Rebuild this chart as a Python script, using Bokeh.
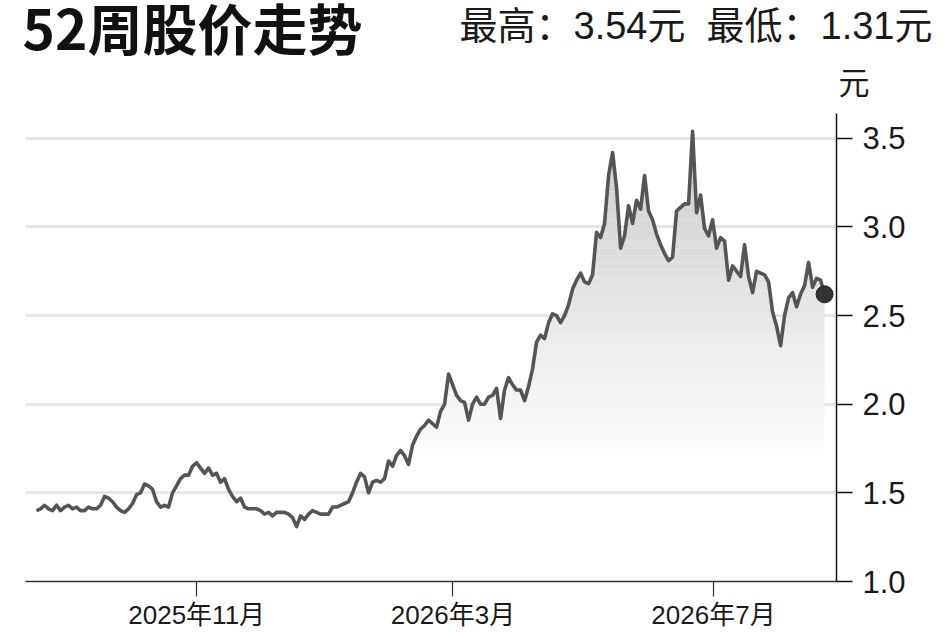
import numpy as np
import pandas as pd
from bokeh.plotting import figure
from bokeh.layouts import column
from bokeh.models import Range1d, FixedTicker, NumeralTickFormatter
from bokeh.core.properties import value
from bokeh.embed import file_html
from bokeh.resources import INLINE

title_text = "52周股价走势"
high_text = "最高：3.54元"
low_text = "最低：1.31元"
unit_text = "元"

start_date = "2025-08-18"
end_date = "2026-08-22"

prices = [
    1.40, 1.41, 1.43, 1.41, 1.40, 1.43, 1.40, 1.42, 1.43, 1.41,
    1.42, 1.40, 1.40, 1.42, 1.41, 1.41, 1.43, 1.48, 1.47, 1.45,
    1.42, 1.40, 1.39, 1.41, 1.44, 1.49, 1.50, 1.55, 1.54, 1.52,
    1.45, 1.42, 1.43, 1.42, 1.50, 1.54, 1.58, 1.60, 1.60, 1.65,
    1.67, 1.64, 1.61, 1.64, 1.60, 1.61, 1.56, 1.58, 1.52, 1.48,
    1.45, 1.47, 1.42, 1.41, 1.41, 1.41, 1.40, 1.38, 1.39, 1.37,
    1.39, 1.39, 1.39, 1.38, 1.36, 1.31, 1.37, 1.35, 1.38, 1.40,
    1.39, 1.38, 1.38, 1.38, 1.42, 1.42,
    1.43, 1.44, 1.45, 1.50, 1.56, 1.61, 1.59, 1.50, 1.56, 1.57,
    1.56, 1.58, 1.68, 1.65, 1.71, 1.74, 1.71, 1.66, 1.77, 1.82,
    1.86, 1.88, 1.91, 1.89, 1.87, 1.96, 2.00, 2.17, 2.11, 2.05,
    2.02, 2.01, 1.91, 2.00, 2.04, 2.00, 2.00, 2.04, 2.05, 2.09,
    1.92, 2.08, 2.15, 2.11, 2.08, 2.08, 2.02, 2.10, 2.20, 2.35,
    2.39, 2.37, 2.46, 2.51, 2.50, 2.46, 2.50, 2.56, 2.65, 2.70,
    2.74, 2.69, 2.68, 2.73, 2.97, 2.94, 3.02, 3.29, 3.42, 3.22,
    2.88, 2.95, 3.12, 3.02, 3.15, 3.10, 3.29, 3.09, 3.04, 2.96,
    2.90, 2.85, 2.81, 2.83, 3.09, 3.11, 3.13, 3.13, 3.54, 3.08,
    3.18, 2.99, 2.95, 3.04, 2.88, 2.94, 2.92, 2.70, 2.78, 2.75,
    2.72, 2.90, 2.72, 2.63, 2.75, 2.74, 2.73, 2.69, 2.52, 2.44,
    2.33, 2.50, 2.60, 2.63, 2.55, 2.62, 2.67, 2.80, 2.66, 2.71,
    2.70, 2.62,
]

x_tick_dates = ["2025-11-01", "2026-03-01", "2026-07-01"]
x_tick_labels = ["2025年11月", "2026年3月", "2026年7月"]
y_ticks = [1.0, 1.5, 2.0, 2.5, 3.0, 3.5]

dates = pd.date_range(start_date, end_date, periods=len(prices))
price_arr = np.array(prices)

W = 948
HEAD_H = 113
MAIN_H = 519

# ---------- header (title texts) ----------
head = figure(width=W, height=HEAD_H, x_range=Range1d(0, W), y_range=Range1d(HEAD_H, 0),
              x_axis_location=None, y_axis_location=None,
              output_backend="svg", toolbar_location=None,
              min_border_left=0, min_border_right=0, min_border_top=0, min_border_bottom=0)
head.frame_align = False
head.outline_line_color = None
head.xgrid.visible = False
head.ygrid.visible = False
head.text(x=[22], y=[25], text=[title_text], text_font=value("Noto Sans CJK SC"),
          text_font_style="bold", text_font_size="55px", text_baseline="alphabetic",
          text_color="#111111")
head.text(x=[459, 706], y=[25, 25], text=[high_text, low_text],
          text_font=value("Liberation Sans, Noto Sans CJK SC"),
          text_font_size="38px", text_baseline="alphabetic", text_color="#1a1a1a")
head.text(x=[838], y=[80], text=[unit_text], text_font=value("Noto Sans CJK SC"),
          text_font_size="31px", text_baseline="alphabetic", text_color="#1a1a1a")

# ---------- main chart ----------
p = figure(
    width=W, height=MAIN_H,
    x_axis_type="datetime", y_axis_location="right",
    x_range=Range1d(pd.Timestamp("2025-08-12 20:00"), pd.Timestamp("2026-08-27 14:00")),
    y_range=Range1d(1.0, 3.64),
    output_backend="svg", toolbar_location=None,
    min_border_left=25, min_border_right=112, min_border_top=0, min_border_bottom=49,
)
p.frame_align = False
p.outline_line_color = None
p.xgrid.visible = False

# gradient fill under the line (stacked bands)
levels = np.arange(1.60, 3.66, 0.04)
for b0, b1 in zip(levels[:-1], levels[1:]):
    mid = (b0 + b1) / 2
    g = int(round(max(200, min(255, 255 - (mid - 1.65) * 28))))
    col = "#%02x%02x%02x" % (g, g, g)
    p.varea(x=dates, y1=np.minimum(price_arr, b0), y2=np.minimum(price_arr, b1),
            fill_color=col)

p.line(dates, prices, line_color="#555555", line_width=3.6, line_join="round")
p.scatter([dates[-1]], [prices[-1]], size=17, fill_color="#333333",
          line_color="#222222", line_width=1)

# y axis (right)
p.yaxis.ticker = FixedTicker(ticks=y_ticks)
p.yaxis.formatter = NumeralTickFormatter(format="0.0")
p.yaxis.major_tick_in = 0
p.yaxis.major_tick_out = 16
p.yaxis.minor_tick_out = 0
p.yaxis.minor_tick_in = 0
p.yaxis.major_label_standoff = 10
p.yaxis.major_label_text_font = "Liberation Sans"
p.yaxis.major_label_text_font_size = "31px"
p.yaxis.major_label_text_color = "#1a1a1a"
p.yaxis.axis_line_color = "#111111"
p.yaxis.axis_line_width = 1.5
p.yaxis.major_tick_line_color = "#111111"
p.yaxis.major_tick_line_width = 1.5

p.ygrid.grid_line_color = "#e6e6e6"
p.ygrid.grid_line_width = 3

# x axis
x_ms = [pd.Timestamp(d).value / 1e6 for d in x_tick_dates]
p.xaxis.ticker = FixedTicker(ticks=x_ms)
p.xaxis.major_label_overrides = dict(zip(x_ms, x_tick_labels))
p.xaxis.major_tick_in = 0
p.xaxis.major_tick_out = 15
p.xaxis.minor_tick_out = 0
p.xaxis.minor_tick_in = 0
p.xaxis.major_label_standoff = 3
p.xaxis.major_label_text_font = "Liberation Sans, Noto Sans CJK SC"
p.xaxis.major_label_text_font_size = "26px"
p.xaxis.major_label_text_color = "#1a1a1a"
p.xaxis.axis_line_color = "#333333"
p.xaxis.axis_line_width = 1.5
p.xaxis.major_tick_line_color = "#333333"
p.xaxis.major_tick_line_width = 1.2

layout = column(head, p, spacing=0)
open("out.html", "w").write(file_html(layout, INLINE))
